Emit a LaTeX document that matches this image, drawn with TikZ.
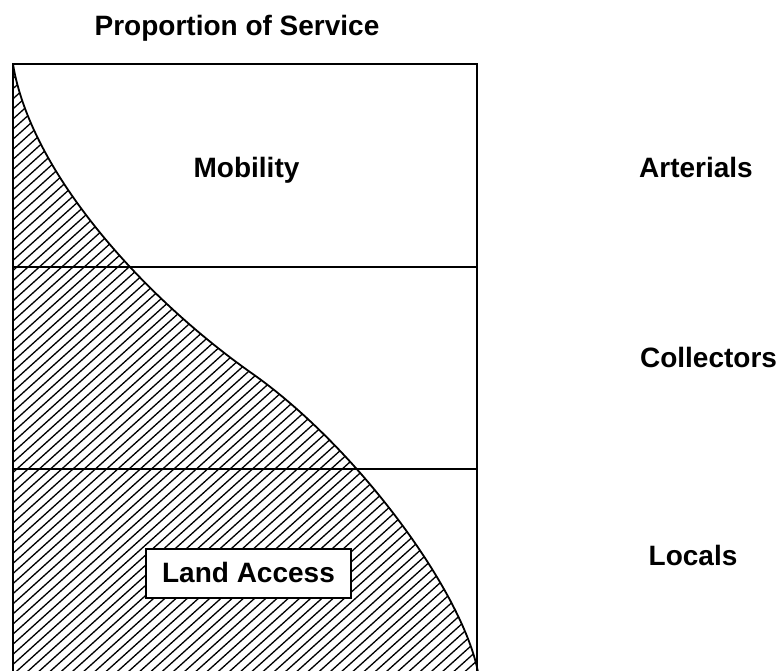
\documentclass[tikz,border=0pt]{standalone}
\usepackage{fontspec}
\setmainfont{Liberation Sans}
\begin{document}
\begin{tikzpicture}[x=1pt,y=-1pt,
  lbl/.style={font=\fontsize{28}{33}\selectfont\bfseries, inner sep=0pt, anchor=base},
  framecol/.style={line width=1.8pt},
  divider/.style={line width=1.3pt},
  hatchline/.style={line width=1.3pt},
  curveline/.style={line width=1.8pt},
  boxed/.style={draw, line width=1.4pt, fill=white, minimum width=205pt, minimum height=49pt, inner sep=0pt}]
\useasboundingbox (0,0) rectangle (779,670);
\coordinate (tl) at (13,64);
\coordinate (tr) at (477,64);
\coordinate (bl) at (13,672);
\coordinate (br) at (477,672);
\coordinate (l1) at (13,267);
\coordinate (r1) at (477,267);
\coordinate (l2) at (13,469);
\coordinate (r2) at (477,469);
\coordinate (mid) at (250,372);
\coordinate (cend) at (478,672);
% hatch
\begin{scope}
\clip (tl) .. controls (30,170) and (140,294) .. (mid) .. controls (355,445) and (462,590) .. (cend) -- (bl) -- cycle;
\foreach \c in {60,70.1,...,1420} \draw[hatchline] (0,\c) -- (800,\c-720.3);
\end{scope}
\draw[curveline] (tl) .. controls (30,170) and (140,294) .. (mid) .. controls (355,445) and (462,590) .. (cend);
% frame
\draw[framecol] (bl) -- (tl) -- (tr) -- (br);
\draw[divider] (l1) -- (r1);
\draw[divider] (l2) -- (r2);
% labels
\node[lbl] (title) at (237,35) {Proportion of Service};
\node[lbl] (mob) at (246.5,177) {Mobility};
\node[lbl] (art) at (696,177) {Arterials};
\node[lbl] (col) at (708.5,367) {Collectors};
\node[lbl] (loc) at (693,565) {Locals};
\node[boxed] (landbox) at (248.5,573.5) {};
\node[lbl] (land) at (248.5,582) {Land Access};
\end{tikzpicture}
\end{document}
